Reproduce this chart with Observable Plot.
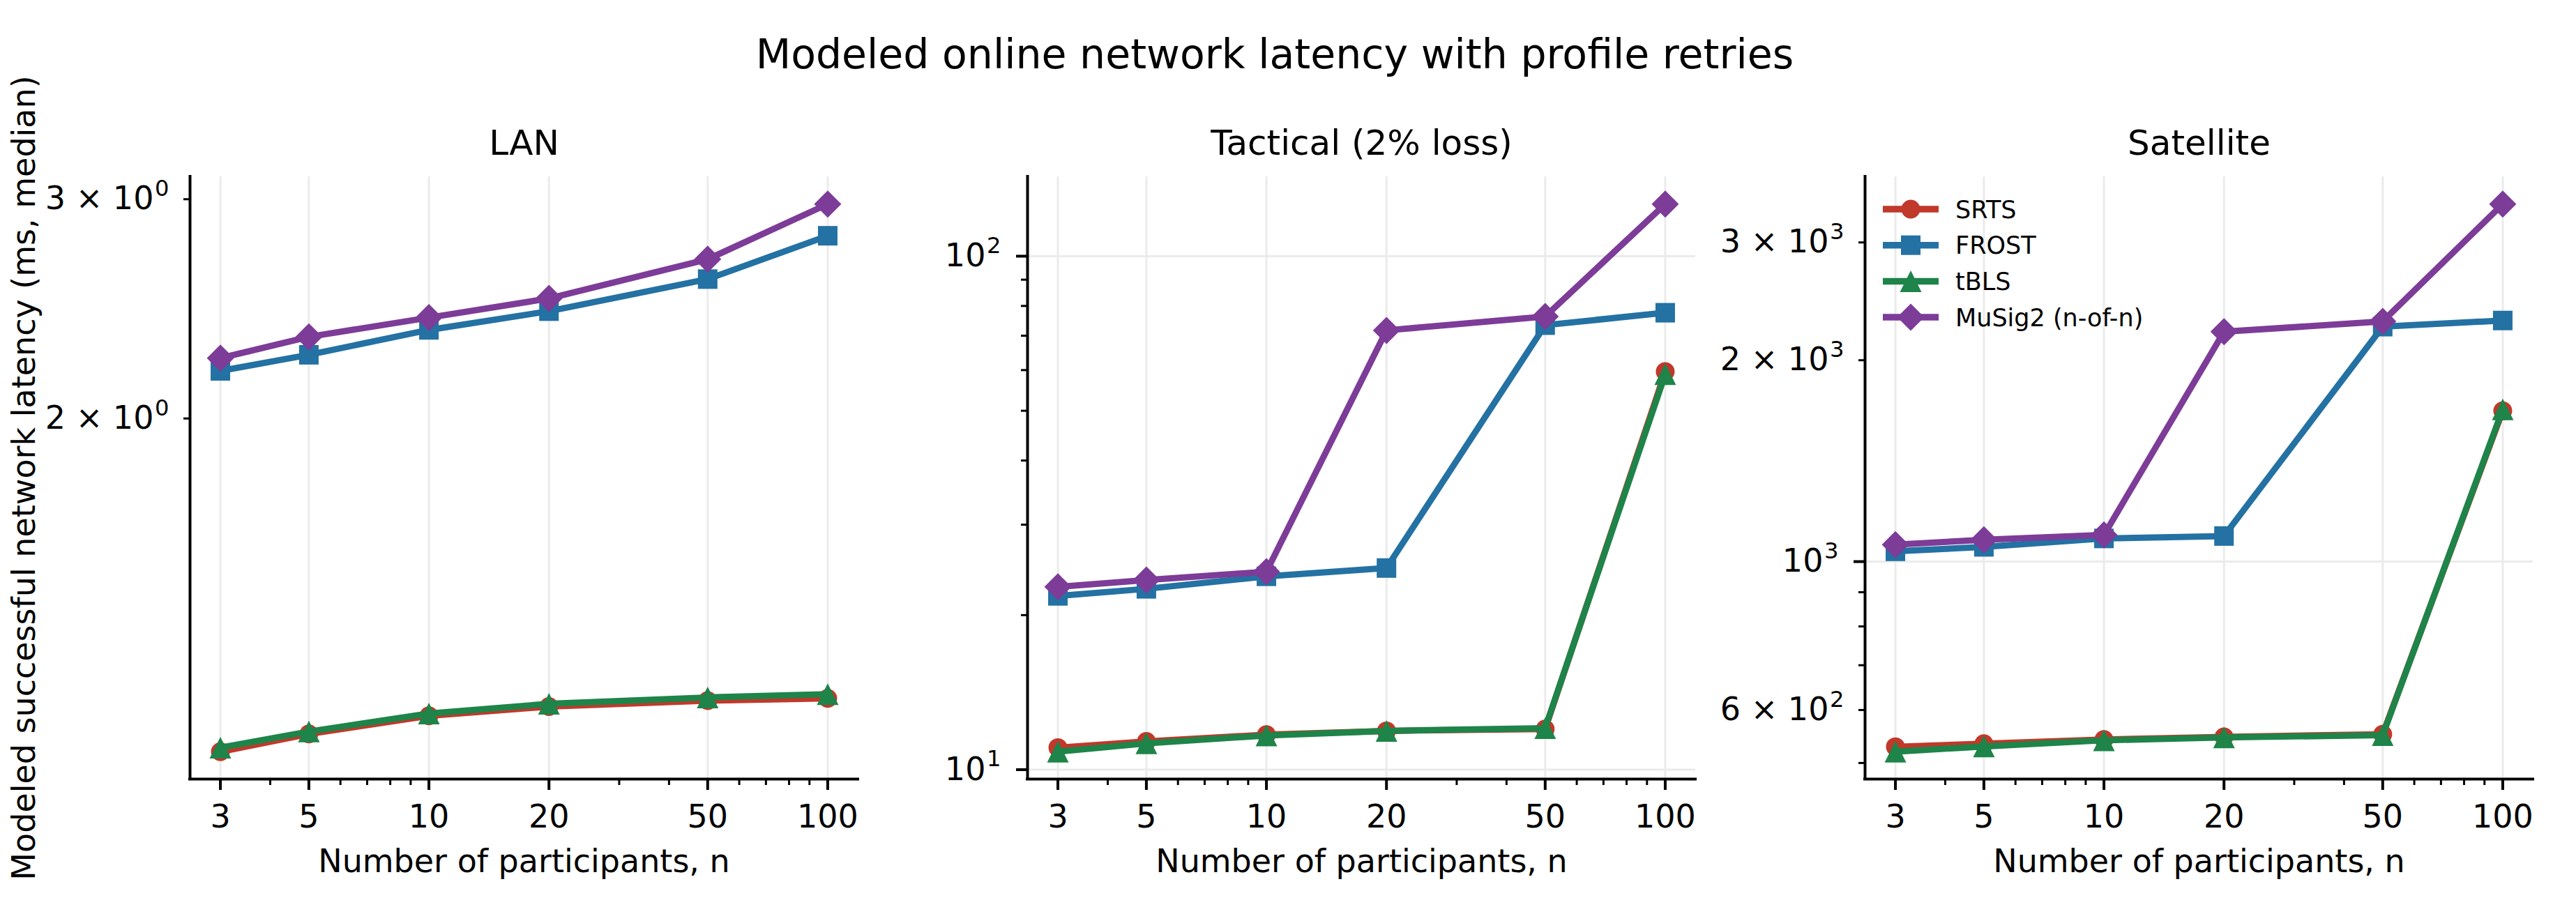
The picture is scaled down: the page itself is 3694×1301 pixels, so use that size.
<!DOCTYPE html>
<html>
<head>
<meta charset="utf-8">
<script src="https://cdn.jsdelivr.net/npm/d3@7"></script>
<script src="https://cdn.jsdelivr.net/npm/@observablehq/plot@0.6"></script>
<style>
html, body { margin: 0; padding: 0; background: #fff; }
#fig { position: relative; width: 3694px; height: 1301px; overflow: hidden; background: #fff;
       font-family: "DejaVu Sans", sans-serif; color: #000; }
#fig svg { position: absolute; top: 0; max-width: none; background: transparent; overflow: visible; }
#title { position: absolute; left: 0; width: 3656px; top: 49px; text-align: center;
         font-size: 58.5px; line-height: 58.5px; white-space: nowrap; }
</style>
</head>
<body>
<div id="fig"><div id="title">Modeled online network latency with profile retries</div></div>
<script>
// ---------- data ----------
const participants = [3, 5, 10, 20, 50, 100];
const seriesNames = ["SRTS", "FROST", "tBLS", "MuSig2 (n-of-n)"];
const seriesColors = ["#c0392b", "#2471a3", "#1e8449", "#7d3c98"];

const lanSRTS   = [1.080, 1.116, 1.154, 1.174, 1.187, 1.192];
const lanFROST  = [2.184, 2.250, 2.356, 2.439, 2.588, 2.804];
const lanTBLS   = [1.088, 1.121, 1.159, 1.180, 1.194, 1.201];
const lanMuSig2 = [2.236, 2.326, 2.410, 2.497, 2.685, 2.973];

const tacSRTS   = [11.04, 11.35, 11.70, 11.90, 12.00, 59.6];
const tacFROST  = [21.8, 22.5, 23.8, 24.7, 73.4, 77.6];
const tacTBLS   = [10.84, 11.25, 11.66, 11.90, 12.05, 58.9];
const tacMuSig2 = [22.7, 23.4, 24.3, 71.7, 76.3, 126.3];

const satSRTS   = [528.7, 534.3, 542, 547, 552, 1680];
const satFROST  = [1036, 1052, 1083, 1092, 2245, 2293];
const satTBLS   = [519.8, 529.3, 540.6, 546, 550.2, 1689];
const satMuSig2 = [1060, 1078, 1096, 2206, 2286, 3423];

const panelTitles = ["LAN", "Tactical (2% loss)", "Satellite"];

// tick values and labels
const xTicks = [3, 5, 10, 20, 50, 100];
const xMinorTicks = [4, 6, 7, 8, 9, 30, 40, 60, 70, 80, 90];

const lanYMajor = [];
const lanYMinor = [2, 3];
const lanYTicks = [2, 3];
const lanYTickLabels = ["2 × 10^0", "3 × 10^0"];

const tacYMajor = [10, 100];
const tacYMinor = [20, 30, 40, 50, 60, 70, 80, 90];
const tacYTicks = [10, 100];
const tacYTickLabels = ["10^1", "10^2"];

const satYMajor = [1000];
const satYMinor = [500, 600, 700, 800, 900, 2000, 3000];
const satYTicks = [600, 1000, 2000, 3000];
const satYTickLabels = ["6 × 10^2", "10^3", "2 × 10^3", "3 × 10^3"];

const xLabel = "Number of participants, n";
const yLabel = "Modeled successful network latency (ms, median)";

// ---------- symbols (matplotlib-like markers) ----------
const symSquare = { draw(ctx, size) { const r = Math.sqrt(size / Math.PI);
  ctx.moveTo(-r, -r); ctx.lineTo(r, -r); ctx.lineTo(r, r); ctx.lineTo(-r, r); ctx.closePath(); } };
const symTriangle = { draw(ctx, size) { const r = Math.sqrt(size / Math.PI);
  ctx.moveTo(0, -r); ctx.lineTo(r, r); ctx.lineTo(-r, r); ctx.closePath(); } };
const symDiamond = { draw(ctx, size) { const r = Math.sqrt(size / Math.PI);
  ctx.moveTo(0, -r); ctx.lineTo(r, 0); ctx.lineTo(0, r); ctx.lineTo(-r, 0); ctx.closePath(); } };
const seriesSymbols = ["circle", symSquare, symTriangle, symDiamond];
const seriesR = [13.5, 14, 15.5, 19.5];

// ---------- layout ----------
const H = 1301, frameTop = 253, frameBottom = 1117, frameW = 958;
const frameLefts = [272, 1473, 2674];
const mLeft = [272, 260, 260];

function padLog(values) {
  const [lo, hi] = d3.extent(values);
  const a = Math.log10(lo), b = Math.log10(hi), p = (b - a) * 0.05;
  return [Math.pow(10, a - p), Math.pow(10, b + p)];
}

// turn "a × 10^k" labels into text with a real superscript
function superscriptify(svg) {
  svg.querySelectorAll("text").forEach((t) => {
    if (t.children.length) return;
    const m = /^(.*)\^(\d+)$/.exec(t.textContent);
    if (!m) return;
    t.textContent = m[1];
    const sup = document.createElementNS("http://www.w3.org/2000/svg", "tspan");
    sup.setAttribute("font-size", "0.7em");
    sup.setAttribute("dy", "-0.6em");
    sup.setAttribute("dx", "0.05em");
    sup.textContent = m[2];
    t.appendChild(sup);
  });
}

const panels = [
  { values: [lanSRTS, lanFROST, lanTBLS, lanMuSig2], major: lanYMajor, minor: lanYMinor, ticks: lanYTicks, labels: lanYTickLabels },
  { values: [tacSRTS, tacFROST, tacTBLS, tacMuSig2], major: tacYMajor, minor: tacYMinor, ticks: tacYTicks, labels: tacYTickLabels },
  { values: [satSRTS, satFROST, satTBLS, satMuSig2], major: satYMajor, minor: satYMinor, ticks: satYTicks, labels: satYTickLabels }
];

const fig = document.getElementById("fig");
const xDomain = padLog(participants);

panels.forEach((p, k) => {
  const yDomain = padLog(p.values.flat());
  const labelMap = new Map(p.ticks.map((t, i) => [t, p.labels[i]]));
  const fmt = (d) => labelMap.get(d) ?? "";
  const marks = [
    Plot.gridX(xTicks, { stroke: "#ebebeb", strokeOpacity: 1, strokeWidth: 3 }),
    Plot.gridY(p.major, { stroke: "#ebebeb", strokeOpacity: 1, strokeWidth: 3 })
  ];
  p.values.forEach((vals, i) => {
    const data = participants.map((n, j) => ({ n, v: vals[j] }));
    marks.push(Plot.line(data, { x: "n", y: "v", stroke: seriesColors[i], strokeWidth: 9, strokeLinejoin: "round", strokeLinecap: "butt" }));
    marks.push(Plot.dot(data, { x: "n", y: "v", fill: seriesColors[i], stroke: "none", r: seriesR[i], symbol: seriesSymbols[i] }));
  });
  marks.push(
    Plot.ruleX([xDomain[0]], { stroke: "#000", strokeWidth: 4, strokeLinecap: "square" }),
    Plot.ruleY([yDomain[0]], { stroke: "#000", strokeWidth: 4, strokeLinecap: "square" }),
    Plot.axisX(xTicks, { tickSize: 16, tickPadding: 21, strokeWidth: 4, tickFormat: (d) => String(d), fontSize: 46, label: null }),
    Plot.axisX(xMinorTicks, { tickSize: 9, tickPadding: 0, strokeWidth: 3, tickFormat: () => "", label: null }),
    Plot.axisY(p.major, { tickSize: 16, tickPadding: 22, strokeWidth: 4, tickFormat: fmt, fontSize: 46, label: null }),
    Plot.axisY(p.minor, { tickSize: 9, tickPadding: 21, strokeWidth: 3, tickFormat: fmt, fontSize: 46, label: null }),
    Plot.text([panelTitles[k]], { text: (d) => d, frameAnchor: "top", lineAnchor: "middle", dy: -48, fontSize: 50 }),
    Plot.text([xLabel], { text: (d) => d, frameAnchor: "bottom", lineAnchor: "middle", dy: 119, fontSize: 46 })
  );
  if (k === 0) {
    marks.push(Plot.text([yLabel], { text: (d) => d, frameAnchor: "left", textAnchor: "middle", lineAnchor: "middle", rotate: -90, dx: -237, fontSize: 46 }));
  }
  const svg = Plot.plot({
    width: mLeft[k] + frameW + 40,
    height: H,
    marginLeft: mLeft[k],
    marginRight: 40,
    marginTop: frameTop,
    marginBottom: H - frameBottom,
    style: { fontFamily: "DejaVu Sans", fontSize: "46px", background: "transparent", color: "#000", overflow: "visible" },
    x: { type: "log", domain: xDomain, label: null },
    y: { type: "log", domain: yDomain, label: null },
    marks
  });
  superscriptify(svg);
  svg.style.left = (frameLefts[k] - mLeft[k]) + "px";
  fig.appendChild(svg);
});

// ---------- legend (inside Satellite panel, upper left) ----------
const legendX = 2700, legendY = 300, legendRowH = 51.7;
const lg = d3.create("svg").attr("width", 700).attr("height", 260)
  .style("left", legendX + "px").style("top", (legendY - 40) + "px");
seriesNames.forEach((name, i) => {
  const y = 40 + i * legendRowH;
  lg.append("line").attr("x1", 0).attr("x2", 80).attr("y1", y).attr("y2", y)
    .attr("stroke", seriesColors[i]).attr("stroke-width", 9.5);
  const sym = seriesSymbols[i] === "circle" ? d3.symbolCircle : seriesSymbols[i];
  lg.append("path").attr("transform", `translate(40,${y})`)
    .attr("d", d3.symbol(sym, Math.PI * seriesR[i] * seriesR[i])())
    .attr("fill", seriesColors[i]);
  lg.append("text").attr("x", 104).attr("y", y).attr("dy", "0.36em")
    .attr("font-family", "DejaVu Sans").attr("font-size", 35).attr("fill", "#000").text(name);
});
fig.appendChild(lg.node());
</script>
</body>
</html>
